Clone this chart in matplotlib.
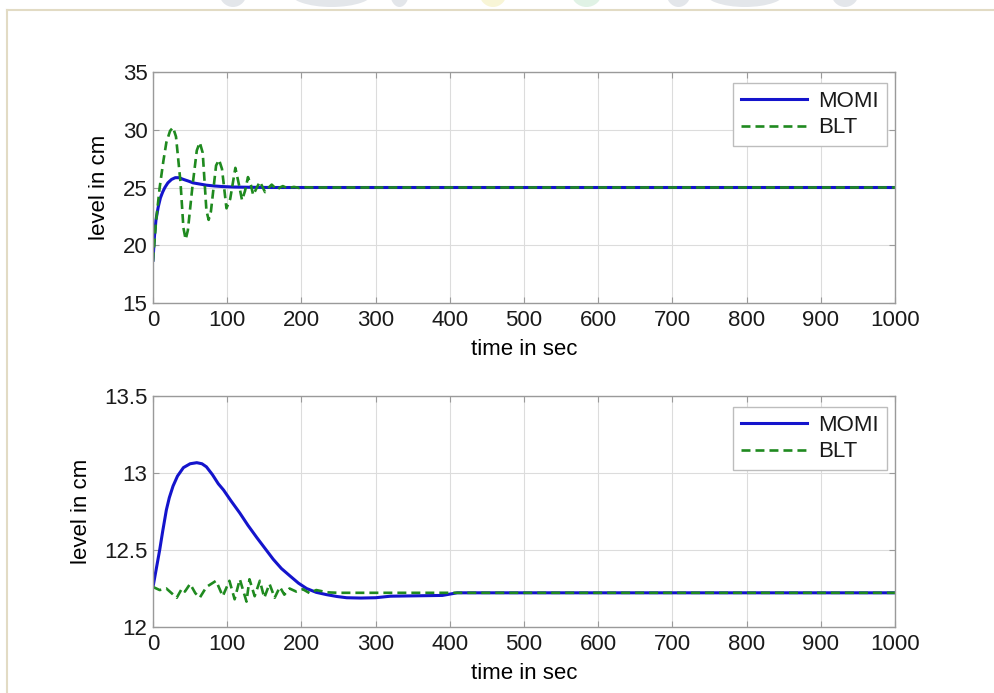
import matplotlib
matplotlib.use("Agg")
import matplotlib.pyplot as plt
from matplotlib.lines import Line2D
from matplotlib.patches import Ellipse

# ----------------------------------------------------------------------
# Data
# ----------------------------------------------------------------------
# top panel: tank level 1
t1_momi = [0, 2, 4, 7, 10, 13, 16, 20, 25, 30, 35, 41, 48, 54, 63, 72, 83, 94,
           110, 130, 160, 1000]
y1_momi = [18.7, 20.8, 22.2, 23.3, 24.1, 24.6, 25.0, 25.4, 25.7, 25.85, 25.85,
           25.7, 25.55, 25.4, 25.3, 25.2, 25.13, 25.08, 25.04, 25.02, 25.0, 25.0]

t1_blt = [0, 4, 9, 14, 18, 23, 27, 31, 37, 41, 44, 47, 53, 59, 63, 67, 72, 75,
          78, 85, 89, 93, 99, 104, 111, 116, 120, 124, 128, 132, 135, 140, 144,
          148, 151, 156, 160, 164, 167, 171, 175, 179, 182, 186, 190, 194, 197,
          205, 215, 1000]
y1_blt = [18.6, 22.0, 25.0, 27.3, 28.9, 29.9, 30.2, 29.4, 25.5, 21.5, 20.5, 21.3,
          25.0, 28.2, 28.9, 28.0, 23.0, 22.2, 22.9, 26.9, 27.4, 26.6, 23.2, 24.0,
          26.7, 25.2, 23.9, 24.7, 25.9, 25.2, 24.35, 25.0, 25.5, 25.0, 24.6, 25.0,
          25.25, 25.0, 24.8, 25.0, 25.12, 25.0, 24.9, 25.0, 25.05, 25.0, 24.96,
          25.02, 25.0, 25.0]

# bottom panel: tank level 2
t2_momi = [0, 3, 6, 9, 13, 18, 22, 27, 33, 41, 50, 59, 66, 72, 80, 88, 95, 105,
           117, 128, 140, 151, 162, 173, 185, 196, 207, 220, 234, 248, 261, 280,
           300, 320, 390, 410, 1000]
y2_momi = [12.26, 12.34, 12.42, 12.50, 12.62, 12.76, 12.84, 12.915, 12.98,
           13.035, 13.06, 13.067, 13.06, 13.04, 12.99, 12.93, 12.89, 12.82, 12.74,
           12.66, 12.58, 12.51, 12.44, 12.38, 12.33, 12.285, 12.25, 12.225, 12.21,
           12.198, 12.19, 12.188, 12.19, 12.2, 12.205, 12.222, 12.222]

t2_blt = [0, 9, 18, 25, 32, 39, 43, 50, 57, 63, 72, 85, 94, 103, 110, 117, 126,
          130, 137, 144, 150, 157, 164, 171, 177, 184, 193, 202, 211, 220, 235,
          250, 1000]
y2_blt = [12.26, 12.24, 12.25, 12.22, 12.19, 12.25, 12.23, 12.28, 12.22, 12.19,
          12.26, 12.30, 12.20, 12.30, 12.18, 12.31, 12.165, 12.31, 12.20, 12.30,
          12.19, 12.28, 12.19, 12.26, 12.21, 12.25, 12.23, 12.245, 12.22, 12.24,
          12.225, 12.222, 12.222]

xticks = list(range(0, 1001, 100))
yticks_top = [15, 20, 25, 30, 35]
yticks_bot = [12, 12.5, 13, 13.5]
ytick_labels_bot = ["12", "12.5", "13", "13.5"]
series_names = ["MOMI", "BLT"]

# ----------------------------------------------------------------------
# Style
# ----------------------------------------------------------------------
plt.rcParams.update({
    "font.family": ["Liberation Sans", "DejaVu Sans"],
    "font.size": 16,
    "text.color": "#1a1a1a",
    "xtick.color": "#9a9a9a",
    "ytick.color": "#9a9a9a",
    "xtick.labelcolor": "#1a1a1a",
    "ytick.labelcolor": "#1a1a1a",
})

BLUE = "#1414cc"
GREEN = "#1f8a1f"

fig = plt.figure(figsize=(9.94, 6.93), dpi=100)
W, H = 994, 693


def px_axes(x0, y0, x1, y1):
    return fig.add_axes([x0 / W, 1 - y1 / H, (x1 - x0) / W, (y1 - y0) / H])


ax_top = px_axes(153, 72, 895, 303)
ax_bot = px_axes(153, 396, 895, 627)


def style(ax, ylim, yticks, ylabels=None):
    ax.set_xlim(0, 1000)
    ax.set_ylim(*ylim)
    ax.set_xticks(xticks)
    ax.set_yticks(yticks)
    if ylabels:
        ax.set_yticklabels(ylabels)
    ax.grid(True, color="#dcdcdc", lw=0.8)
    ax.set_axisbelow(True)
    for s in ax.spines.values():
        s.set_edgecolor("#9a9a9a")
        s.set_linewidth(1.0)
    ax.tick_params(direction="in", length=4, width=0.8, top=True, right=True)
    ax.tick_params(axis="x", pad=5)
    ax.tick_params(axis="y", pad=4)
    ax.set_xlabel("time in sec", labelpad=6)
    ax.set_ylabel("level in cm", labelpad=9)


def draw(ax, tm, ym, tb, yb):
    ax.plot(tm, ym, color=BLUE, lw=2.2, label=series_names[0])
    ax.plot(tb, yb, color=GREEN, lw=1.9, dashes=[3.4, 1.9], label=series_names[1])
    ax.legend(loc="upper right", bbox_to_anchor=(0.989, 0.952), borderaxespad=0,
              fancybox=False, framealpha=1, edgecolor="#bdbdbd",
              handlelength=3.0, handletextpad=0.5, labelspacing=0.25,
              borderpad=0.35)


draw(ax_top, t1_momi, y1_momi, t1_blt, y1_blt)
style(ax_top, (15, 35), yticks_top)

draw(ax_bot, t2_momi, y2_momi, t2_blt, y2_blt)
style(ax_bot, (12, 13.5), yticks_bot, ytick_labels_bot)

# page frame + faint watermark peeking above it
fy = 1 - 10 / H
fig.add_artist(Line2D([7 / W, 1], [fy, fy], color="#e2dbc4", lw=1.5,
                      transform=fig.transFigure))
fig.add_artist(Line2D([7 / W, 7 / W], [0, fy], color="#e2dbc4", lw=1.5,
                      transform=fig.transFigure))
for x0, x1, c in [(219, 247, "#e3e6ea"), (289, 374, "#e3e6ea"),
                  (390, 409, "#e3e6ea"), (479, 507, "#f8f5d6"),
                  (571, 602, "#e0f2e5"), (666, 691, "#e3e6ea"),
                  (704, 786, "#e3e6ea"), (831, 859, "#e3e6ea")]:
    fig.add_artist(Ellipse(((x0 + x1) / 2 / W, 1 + 8 / H), (x1 - x0) / W,
                           30 / H, facecolor=c, edgecolor="none",
                           transform=fig.transFigure))

fig.savefig("out.png", dpi=100, facecolor="white")
